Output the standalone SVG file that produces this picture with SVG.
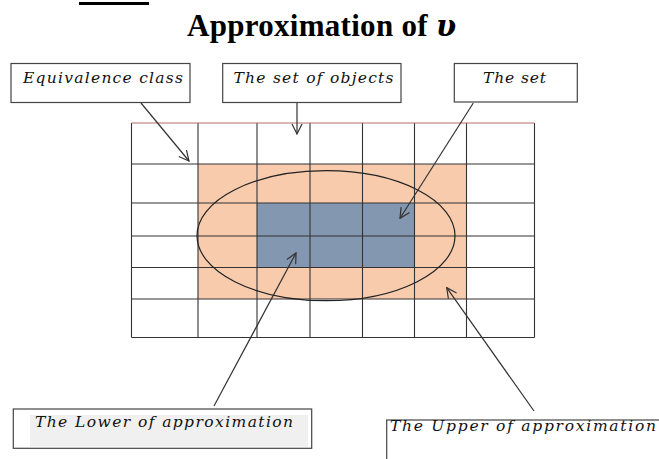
<svg xmlns="http://www.w3.org/2000/svg" width="659" height="459" viewBox="0 0 659 459">
<defs>
<style>
.lbl{font-family:"DejaVu Serif","Liberation Serif",serif;font-style:italic;font-size:15.5px;fill:#111}
.box{fill:#fff;stroke:#444;stroke-width:1.2}
.grid{stroke:#333;stroke-width:1.1;fill:none}
.conn{stroke:#333;stroke-width:1.2;fill:none}
.title{font-family:"Liberation Serif","Times New Roman",serif;font-weight:bold;font-size:31px;fill:#000}
</style>
<marker id="arr" viewBox="0 0 12 12" refX="11" refY="6" markerWidth="12" markerHeight="12" markerUnits="userSpaceOnUse" orient="auto">
<path d="M1,1 L11,6 L1,11" fill="none" stroke="#333" stroke-width="1.2"/>
</marker>
</defs>
<rect width="659" height="459" fill="#fff"/>
<rect x="79" y="2" width="70" height="3" fill="#000"/>
<text class="title" x="187" y="36" textLength="269">Approximation of <tspan font-style="italic" font-family="DejaVu Serif, serif" font-size="29">υ</tspan></text>

<g id="grid">
<rect x="198" y="164" width="268.5" height="135" fill="#f8cbad"/>
<rect x="257" y="203" width="157.5" height="64.5" fill="#8497b0"/>
<path class="grid" d="M131.5,123 V337.5 M198,123 V337.5 M257,123 V337.5 M310,123 V337.5 M362.5,123 V337.5 M414.5,123 V337.5 M466.5,123 V337.5 M534.5,123 V337.5 M131.5,164 H534.5 M131.5,203 H534.5 M131.5,236 H534.5 M131.5,267.5 H534.5 M131.5,299 H534.5 M131.5,337.5 H534.5"/>
<line x1="131.5" y1="123" x2="534.5" y2="123" stroke="#b86a6a" stroke-width="1.1"/>
</g>
<g id="ellipse">
<ellipse cx="326" cy="235.7" rx="129" ry="65" fill="none" stroke="#222" stroke-width="1.2"/>
</g>

<g id="equivalence">
<rect class="box" x="11" y="63.5" width="179" height="39"/>
<text class="lbl" x="23" y="83.3" textLength="160" lengthAdjust="spacing">Equivalence class</text>
</g>
<g id="objects">
<rect class="box" x="222.7" y="63.5" width="178.3" height="39"/>
<text class="lbl" x="233.5" y="83.3" textLength="160" lengthAdjust="spacing">The set of objects</text>
</g>
<g id="theset">
<rect class="box" x="454.3" y="63.5" width="123" height="38.5"/>
<text class="lbl" x="483" y="83.3" textLength="63" lengthAdjust="spacing">The set</text>
</g>
<g id="lower">
<rect class="box" x="13.3" y="409" width="298.4" height="39.3"/>
<rect x="30" y="415" width="278" height="31.7" fill="#f0f0f0"/>
<text class="lbl" x="35" y="426.7" textLength="258" lengthAdjust="spacing">The Lower of approximation</text>
</g>
<g id="upper">
<rect class="box" x="386.7" y="420" width="290" height="60"/>
<text class="lbl" x="390" y="431" textLength="266" lengthAdjust="spacing">The Upper of approximation</text>
</g>

<g id="connectors">
<line class="conn" x1="141" y1="103" x2="189" y2="161" marker-end="url(#arr)"/>
<line class="conn" x1="297" y1="103" x2="297" y2="134" marker-end="url(#arr)"/>
<line class="conn" x1="473.3" y1="103" x2="400" y2="218.3" marker-end="url(#arr)"/>
<line class="conn" x1="214" y1="406" x2="296" y2="253" marker-end="url(#arr)"/>
<line class="conn" x1="534" y1="411" x2="446.7" y2="287.7" marker-end="url(#arr)"/>
</g>
</svg>
